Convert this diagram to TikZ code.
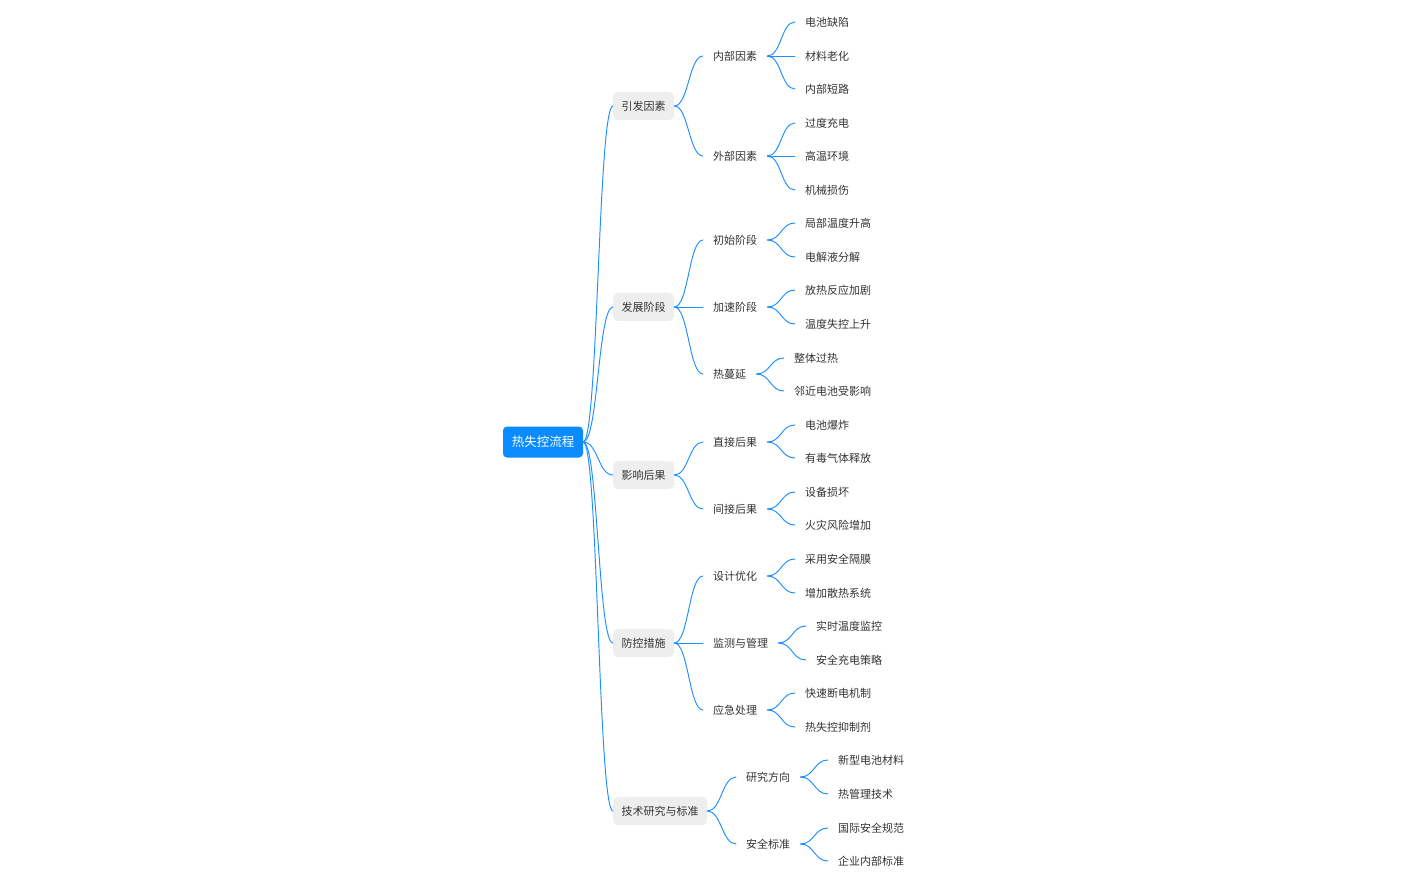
\documentclass[tikz,border=0pt]{standalone}
\usepackage{fontspec}
\newfontfamily\cjk{Noto Sans CJK SC}
\definecolor{linkblue}{HTML}{1E8FFF}
\definecolor{rootblue}{HTML}{0A8BFF}
\definecolor{boxgray}{HTML}{EEEEEE}
\definecolor{txtgray}{HTML}{333333}

\tikzset{
	rootbox/.style={fill=rootblue, text=white, rounded corners=4pt,
		minimum width=80pt, minimum height=31pt, inner sep=0pt,
		font=\cjk\fontsize{12.5}{14}\selectfont},
	topicbox/.style={fill=boxgray, text=txtgray, rounded corners=5pt,
		minimum height=28pt, inner xsep=8.5pt, inner ysep=0pt, anchor=west,
		font=\cjk\fontsize{11}{13}\selectfont},
	subtext/.style={text=txtgray, inner xsep=10pt, inner ysep=2pt, anchor=west,
		font=\cjk\fontsize{11}{13}\selectfont},
	branch/.style={draw=linkblue, line width=0.95pt}
}
\newcommand\link[2]{\draw[branch] (#1.east) .. controls +(14,0) and +(-14,0) .. (#2.west);}

\begin{document}
\begin{tikzpicture}[x=1pt, y=-1pt, line join=round, line cap=round]
	
	\useasboundingbox (0,0) rectangle (1417,885);
	
	\begin{scope}[yshift=-1pt]
	% root
	\node[rootbox] (root) at (543,441) {热失控流程};
	
	% first level
	\node[topicbox] (t1) at (613,105) {引发因素};
	\node[topicbox] (t2) at (613,306) {发展阶段};
	\node[topicbox] (t3) at (613,474) {影响后果};
	\node[topicbox] (t4) at (613,642) {防控措施};
	\node[topicbox] (t5) at (613,810) {技术研究与标准};
	\foreach \t in {t1,t2,t3,t4,t5}
		\draw[branch] (root.east) .. controls +(15,0) and +(-15,0) .. (\t.west);
	
	% second level
	\foreach \n/\p/\x/\y/\txt in {
		s11/t1/703/55/内部因素, s12/t1/703/155/外部因素,
		s21/t2/703/239/初始阶段, s22/t2/703/306/加速阶段, s23/t2/703/373/热蔓延,
		s31/t3/703/441/直接后果, s32/t3/703/508/间接后果,
		s41/t4/703/575/设计优化, s42/t4/703/642/监测与管理, s43/t4/703/709/应急处理,
		s51/t5/736/776/研究方向, s52/t5/736/843/安全标准} {
		\node[subtext] (\n) at (\x,\y) {\txt};
		\link{\p}{\n}
	}
	
	% leaves
	\foreach \n/\p/\x/\y/\txt in {
		a1/s11/795/21/电池缺陷, a2/s11/795/55/材料老化, a3/s11/795/88/内部短路,
		b1/s12/795/122/过度充电, b2/s12/795/155/高温环境, b3/s12/795/189/机械损伤,
		c1/s21/795/222/局部温度升高, c2/s21/795/256/电解液分解,
		d1/s22/795/289/放热反应加剧, d2/s22/795/323/温度失控上升,
		e1/s23/784/357/整体过热, e2/s23/784/390/邻近电池受影响,
		f1/s31/795/424/电池爆炸, f2/s31/795/457/有毒气体释放,
		g1/s32/795/491/设备损坏, g2/s32/795/524/火灾风险增加,
		h1/s41/795/558/采用安全隔膜, h2/s41/795/592/增加散热系统,
		i1/s42/806/625/实时温度监控, i2/s42/806/659/安全充电策略,
		j1/s43/795/692/快速断电机制, j2/s43/795/726/热失控抑制剂,
		k1/s51/828/759/新型电池材料, k2/s51/828/793/热管理技术,
		m1/s52/828/827/国际安全规范, m2/s52/828/860/企业内部标准} {
		\node[subtext] (\n) at (\x,\y) {\txt};
		\link{\p}{\n}
	}
	\end{scope}
	
\end{tikzpicture}
\end{document}
